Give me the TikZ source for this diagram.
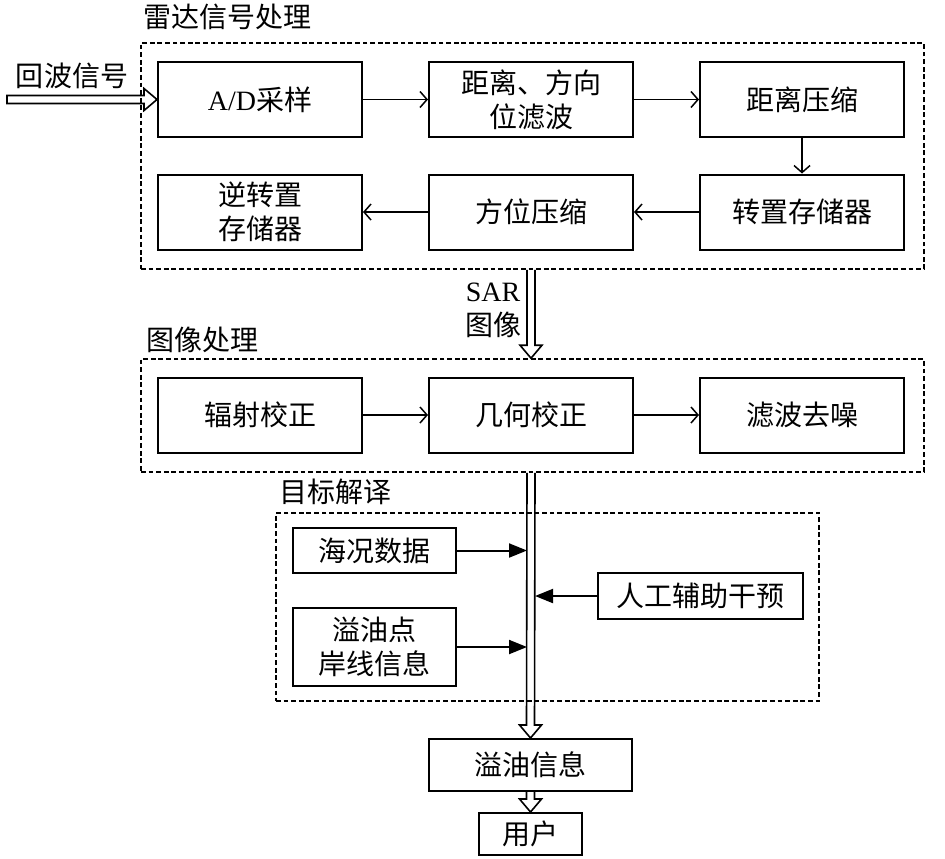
\documentclass[tikz,border=0pt]{standalone}
\usepackage{fontspec}
\setmainfont{Liberation Serif}
\newfontfamily\cjk{Noto Sans CJK SC}
\usetikzlibrary{arrows.meta,calc}

\newcommand\zhfont{\fontsize{14pt}{17pt}\selectfont\cjk}
% hollow arrows: shaft 8px, head 22px wide
\newcommand\hollowdown[2]{%
  \draw[hollow] ($(#1)+(-4,0)$) -- ($(#2)+(-4,-13)$) -- ($(#2)+(-11,-13)$) -- (#2)
    -- ($(#2)+(11,-13)$) -- ($(#2)+(4,-13)$) -- ($(#1)+(4,0)$);}
\newcommand\hollowright[2]{%
  \draw[hollow] ($(#1)+(0,-4)$) -- ($(#2)+(-13,-4)$) -- ($(#2)+(-13,-11)$) -- (#2)
    -- ($(#2)+(-13,11)$) -- ($(#2)+(-13,4)$) -- ($(#1)+(0,4)$) -- cycle;}

\begin{document}
\begin{tikzpicture}[x=0.5pt, y=-0.5pt,
    block/.style={draw, line width=1pt, minimum width=102pt, minimum height=37.5pt, inner sep=0pt, align=center, font=\zhfont},
    small block/.style={draw, line width=1pt, inner sep=0pt, align=center, font=\zhfont},
    group/.style={draw, dash pattern=on 2.4pt off 1.4pt, line width=0.8pt, inner sep=0pt},
    group label/.style={anchor=west, inner sep=0pt, font=\zhfont},
    plain label/.style={inner sep=0pt, align=center, font=\zhfont},
    link/.style={-{Straight Barb[length=3.5pt,width=8pt]}, line width=0.75pt},
    solid link/.style={-{Triangle[length=9pt,width=7pt]}, line width=1pt},
    hollow/.style={line width=0.8pt, line join=miter}
]
\useasboundingbox (0,0) rectangle (945,858);

% Radar signal processing
\node[group, minimum width=391.5pt, minimum height=113pt] (radar) at (532.5,156) {};
\node[group label] at (143,17) {雷达信号处理};

\node[block] (ad) at (260,99.5) {{\rmfamily A/D}采样};
\node[block] (filt) at (531,99.5) {距离、方向\\位滤波};
\node[block] (rcomp) at (802,99.5) {距离压缩};
\node[block] (trans) at (802,212) {转置存储器};
\node[block] (acomp) at (531,212) {方位压缩};
\node[block] (itrans) at (260,212) {逆转置\\存储器};

\draw[link] (ad) -- (filt);
\draw[link] (filt) -- (rcomp);
\draw[link] (rcomp) -- (trans);
\draw[link] (trans) -- (acomp);
\draw[link] (acomp) -- (itrans);

% Echo input
\node[plain label] (echo) at (72,76) {回波信号};
\coordinate (echo start) at (7,99.5);
\hollowright{echo start}{ad.west}

% SAR image
\coordinate (bus) at (531,0);
\coordinate (bus left) at (527,0);
\coordinate (bus right) at (535,0);
\node[plain label] (sar) at (493,310) {{\rmfamily SAR}\\图像};

% Image processing
\node[group, minimum width=391.5pt, minimum height=56.5pt] (image) at (532.5,415.5) {};
\node[group label] at (146,340) {图像处理};
\hollowdown{radar.south -| bus}{image.north -| bus}

\node[block] (radio) at (260,415) {辐射校正};
\node[block] (geo) at (531,415) {几何校正};
\node[block] (denoise) at (802,415) {滤波去噪};

\draw[link] (radio) -- (geo);
\draw[link] (geo) -- (denoise);

% Target interpretation
\node[group, minimum width=271.5pt, minimum height=94pt] (target) at (547.5,607) {};
\node[group label] at (279,492) {目标解译};

\node[small block, minimum width=81.5pt, minimum height=22.5pt] (sea) at (374.5,550.5) {海况数据};
\node[small block, minimum width=81.5pt, minimum height=39pt] (shore) at (374.5,647) {溢油点\\岸线信息};
\node[small block, minimum width=102.5pt, minimum height=23pt] (manual) at (700.5,596) {人工辅助干预};

% Output
\node[small block, minimum width=101.5pt, minimum height=26pt] (info) at (530.5,765) {溢油信息};
\node[small block, minimum width=51.5pt, minimum height=21pt] (user) at (530.5,834) {用户};

\hollowdown{image.south -| bus}{info.north}
\draw[solid link] (sea.east) -- (sea.east -| bus left);
\draw[solid link] (shore.east) -- (shore.east -| bus left);
\draw[solid link] (manual.west) -- (manual.west -| bus right);
\hollowdown{info.south}{user.north}

\end{tikzpicture}
\end{document}
